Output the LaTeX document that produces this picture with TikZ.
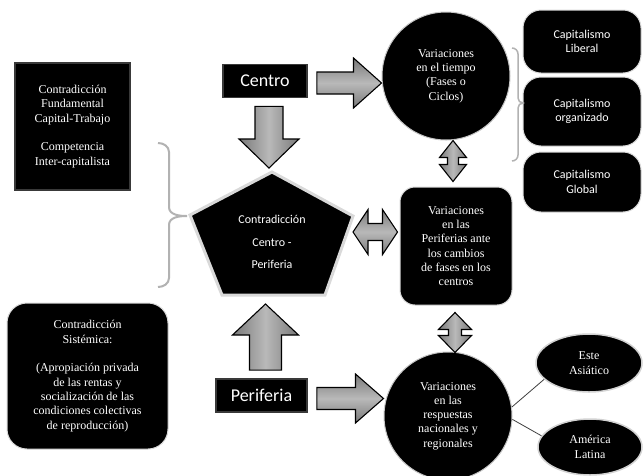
\documentclass[tikz,border=0pt]{standalone}
\usepackage{fontspec}
\setmainfont{Liberation Serif}
\newfontfamily\carl{Carlito}
\usetikzlibrary{calc,shapes.geometric}
\tikzset{
 serift/.style={text=white, font=\fontsize{12}{14.3}\selectfont, align=center},
 sanst/.style={text=white, font=\carl\fontsize{12}{14.5}\selectfont, align=center},
 bigt/.style={text=white, font=\carl\fontsize{18}{20}\selectfont},
 bevelbox/.style={fill=black, draw=gray!45!black, line width=1.8pt, inner sep=0pt},
 roundbox/.style={fill=black, draw=gray!30, line width=1pt, rounded corners=18pt, inner sep=0pt},
 bigcircle/.style={circle, fill=black, draw=gray!45, line width=1pt, inner sep=0pt},
 oval/.style={ellipse, fill=black, draw=gray!35, line width=1.5pt, inner sep=0pt},
 pentstyle/.style={fill=black, draw=gray!30, line width=3pt, line join=miter},
 barrowv/.style={draw=black, line width=1.1pt, line join=miter, left color=gray!105, right color=gray!105, middle color=gray!55},
 barrowh/.style={draw=black, line width=1.1pt, line join=miter, top color=gray!105, bottom color=gray!105, middle color=gray!55},
 bracestyle/.style={draw=gray!60, line width=2pt},
 linkline/.style={draw=black!75, line width=0.8pt},
}
\newcommand\sarrow[7]{%
 \coordinate (#1h) at ($(#3)!#6!(#2)$);
 \path[#7] ($(#2)!#4!90:(#3)$) -- ($(#1h)!#4!-90:(#2)$) -- ($(#1h)!#5!-90:(#2)$) -- (#3) -- ($(#1h)!#5!90:(#2)$) -- ($(#1h)!#4!90:(#2)$) -- ($(#2)!#4!-90:(#3)$) -- cycle;}
\newcommand\darrow[7]{%
 \coordinate (#1p) at ($(#2)!#6!(#3)$);
 \coordinate (#1q) at ($(#3)!#6!(#2)$);
 \path[#7] (#2) -- ($(#1p)!#5!90:(#3)$) -- ($(#1p)!#4!90:(#3)$) -- ($(#1q)!#4!-90:(#2)$) -- ($(#1q)!#5!-90:(#2)$) -- (#3) -- ($(#1q)!#5!90:(#2)$) -- ($(#1q)!#4!90:(#2)$) -- ($(#1p)!#4!-90:(#3)$) -- ($(#1p)!#5!-90:(#3)$) -- cycle;}
\begin{document}
\begin{tikzpicture}[x=1pt,y=-1pt]
\useasboundingbox (0,0) rectangle (643,475);
\fill[white] (0,0) rectangle (643,475);

% left boxes
\node[bevelbox, minimum width=115, minimum height=127, serift] (tl) at (72.5,126.5)
 {Contradicción\\Fundamental\\Capital-Trabajo\\[14.3pt]Competencia\\Inter-capitalista};
\node[roundbox, rounded corners=20pt, minimum width=161, minimum height=146, serift] (sys) at (87.5,376)
 {Contradicción\\Sistémica:\\[14.5pt](Apropiación privada\\de las rentas y\\socialización de las\\condiciones colectivas\\de reproducción)};

% centro / periferia
\node[bevelbox, minimum width=84, minimum height=33, bigt] (centro) at (265,81) {Centro};
\node[bevelbox, minimum width=91, minimum height=33, bigt] (peri) at (261.5,395.5) {Periferia};

% pentagon
\coordinate (pT) at (272,172);
\coordinate (pR) at (353,216);
\coordinate (pBR) at (325,295);
\coordinate (pBL) at (222,295);
\coordinate (pL) at (190,215);
\path[pentstyle] (pT) -- (pR) -- (pBR) -- (pBL) -- (pL) -- cycle;
\node[sanst, font=\carl\fontsize{12}{22.5}\selectfont] (pent) at (272,242) {Contradicción\\Centro -\\Periferia};

% circles and boxes on the right
\node[bigcircle, minimum size=128, serift] (tc) at (446,76) {Variaciones\\en el tiempo\\(Fases o\\Ciclos)};
\node[roundbox, minimum width=118, minimum height=63, sanst] (cap1) at (582,41.5) {Capitalismo\\Liberal};
\node[roundbox, minimum width=118, minimum height=69, sanst] (cap2) at (582,111.5) {Capitalismo\\organizado};
\node[roundbox, minimum width=118, minimum height=60, sanst] (cap3) at (582,182) {Capitalismo\\Global};
\node[roundbox, rounded corners=15pt, minimum width=112, minimum height=118, serift] (vp) at (456,246)
 {Variaciones\\en las\\Periferias ante\\los cambios\\de fases en los\\centros};
\node[bigcircle, minimum size=128, serift] (bc) at (448,416) {Variaciones\\en las\\respuestas\\nacionales y\\regionales};
\node[oval, minimum width=106, minimum height=58, serift] (ea) at (589,363) {Este\\Asiático};
\node[oval, minimum width=104, minimum height=56, serift] (al) at (590,447) {América\\Latina};

% braces
\path[bracestyle] (158,143) to[out=0,in=90] (169,152) -- (169,207) to[out=-90,in=180] (187,216)
  to[out=180,in=90] (169,225) -- (169,278) to[out=-90,in=0] (158,287);
\path[bracestyle, line width=1.5pt] (512,48) to[out=0,in=90] (518,54) -- (518,98) to[out=-90,in=180] (523,103)
  to[out=180,in=90] (518,108) -- (518,155) to[out=-90,in=0] (512,161);

% block arrows
\coordinate (a1s) at ($(centro.east)+(9,2)$);
\coordinate (a1e) at (a1s -| tc.west);
\sarrow{a1}{a1s}{a1e}{11pt}{25pt}{28pt}{barrowh}
\coordinate (a2s) at ($(centro.south)+(4,8)$);
\coordinate (a2e) at ($(a2s |- pT)+(0,-4)$);
\sarrow{a2}{a2s}{a2e}{14pt}{30pt}{29pt}{barrowv}
\coordinate (a3s) at ($(peri.north)+(4,-8)$);
\coordinate (a3e) at ($(a3s |- pBL)+(0,9)$);
\sarrow{a3}{a3s}{a3e}{16pt}{33pt}{31pt}{barrowv}
\coordinate (a4s) at ($(peri.east)+(9,3)$);
\coordinate (a4e) at (a4s -| bc.west);
\sarrow{a4}{a4s}{a4e}{11pt}{24.5pt}{28pt}{barrowh}
\coordinate (d1a) at ($(tc.south)+(7,0)$);
\coordinate (d1b) at ($(d1a |- vp.north)+(0,-5)$);
\darrow{d1}{d1a}{d1b}{5.5pt}{13.5pt}{17pt}{barrowv}
\coordinate (d2a) at ($(vp.south)+(-1,7)$);
\coordinate (d2b) at ($(d2a |- bc.north)+(0,1)$);
\darrow{d2}{d2a}{d2b}{6.5pt}{16.5pt}{17pt}{barrowv}
\coordinate (lrb) at ($(vp.west)+(-2,-14)$);
\coordinate (lra) at (lrb -| pR);
\darrow{lr}{lra}{lrb}{8.5pt}{22.5pt}{15pt}{barrowh}

% links
\path[linkline] (bc.8) -- (ea.200);
\path[linkline] (bc.-3) -- (al.167);
\end{tikzpicture}
\end{document}
